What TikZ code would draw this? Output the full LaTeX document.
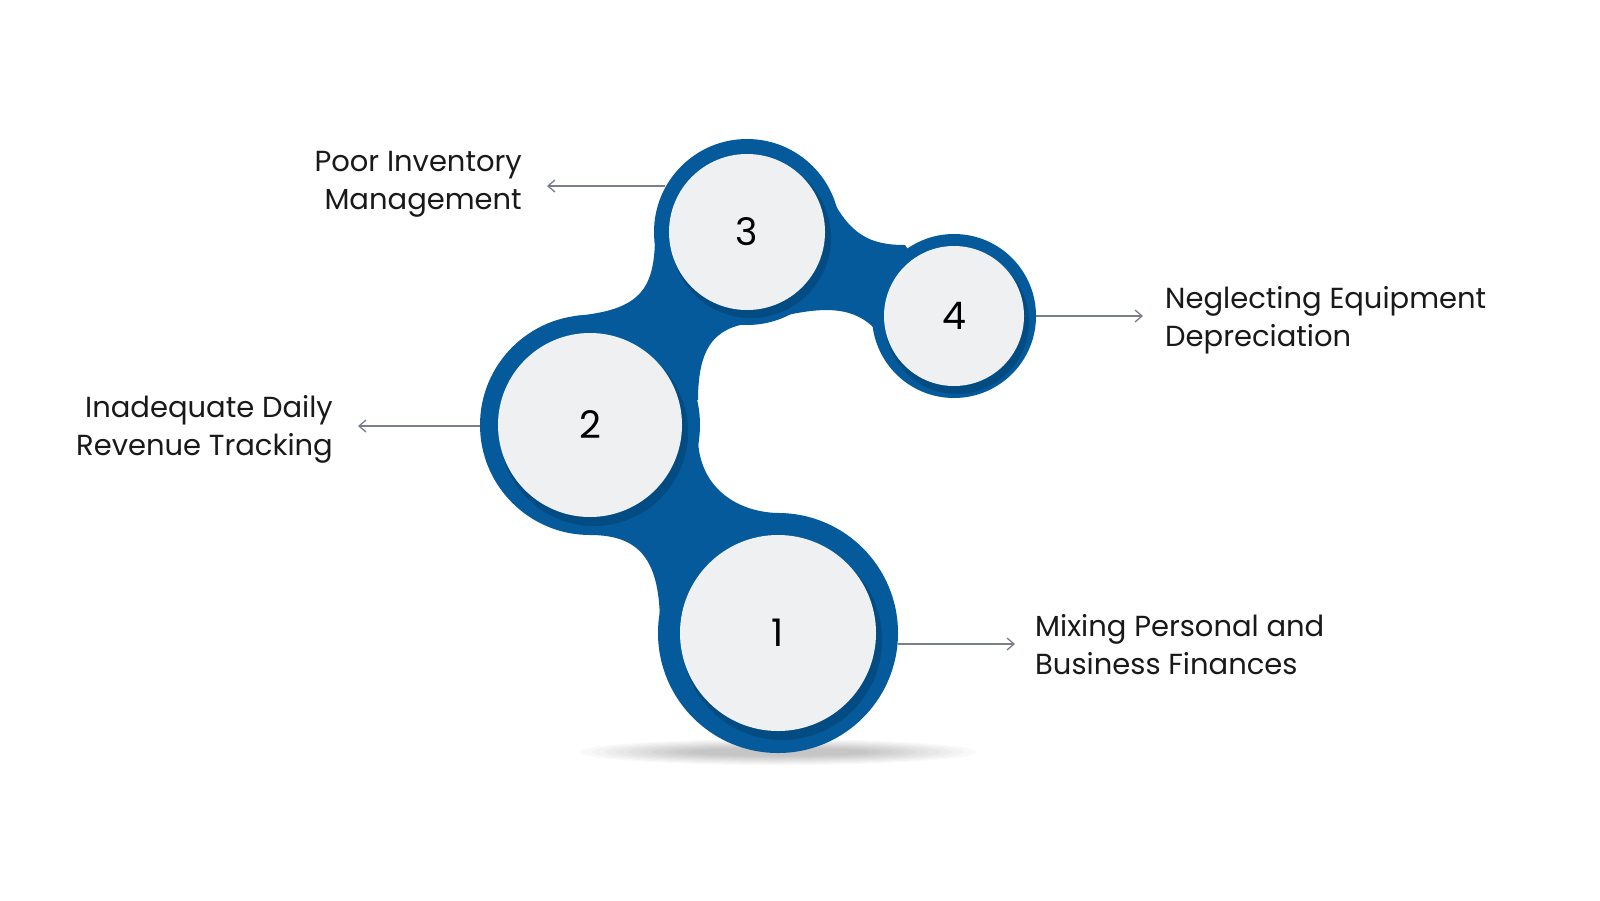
\documentclass[tikz,border=0pt]{standalone}
\usepackage{fontspec}
\setmainfont{Poppins}
\begin{document}
\begin{tikzpicture}[x=1pt,y=-1pt,
  blue/.style={fill=blob,draw=none},
  inner/.style={circle,fill=disc,draw=none,inner sep=0pt,font=\fontsize{38}{40}\selectfont},
  arr/.style={draw=linegray,line width=1.3pt,-{Straight Barb[length=7pt,width=12pt]}},
  lbl/.style={font=\fontsize{29}{38}\selectfont,text=black!90,inner sep=0pt}]
\definecolor{blob}{HTML}{045A9A}
\definecolor{disc}{HTML}{EEF0F2}
\definecolor{linegray}{HTML}{7A7D8C}
\usetikzlibrary{arrows.meta}
\useasboundingbox[fill=white] (0,0) rectangle (1600,900);
% shadow under circle 1
\foreach \i in {1,...,10}{\fill[black,opacity=0.025] (778,752) ellipse ({210-12*\i} and {14-\i});}
% connectors
\fill[blob] (590,425) -- (590,535) .. controls (640,535) and (660,560) .. (660,625) -- (778,633) -- (780,513) .. controls (740,513) and (700,490) .. (698,440) -- cycle;
\fill[blob] (590,425) -- (575,316) .. controls (640,310) and (655,290) .. (655,235) -- (747,232) -- (760,322) .. controls (720,325) and (698,340) .. (698,400) -- cycle;
\fill[blob] (747,232) -- (830,195) .. controls (850,235) and (870,245) .. (905,245) -- (954,316) -- (880,335) .. controls (850,295) and (800,312) .. (745,325) -- cycle;
% blue discs
\fill[blob] (778,633) circle (120);
\fill[blob] (590,425) circle (110);
\fill[blob] (747,232) circle (93);
\fill[blob] (954,316) circle (82);
% shaded rims
\fill[black,opacity=0.15] (782,640) circle (100);
\fill[black,opacity=0.15] (594,432) circle (94);
\fill[black,opacity=0.15] (751,238) circle (80);
\fill[black,opacity=0.15] (957,322) circle (72);
\node[inner,minimum size=196pt] (c1) at (778,633) {1};
\node[inner,minimum size=184pt] (c2) at (590,425) {2};
\node[inner,minimum size=156pt] (c3) at (747,232) {3};
\node[inner,minimum size=140pt] (c4) at (954,316) {4};
% labels
\coordinate (a3) at (665,186); \coordinate (e3) at (547,186);
\coordinate (a2) at (480,426); \coordinate (e2) at (358,426);
\coordinate (a4) at (1036,316); \coordinate (e4) at (1143,316);
\coordinate (a1) at (898,644); \coordinate (e1) at (1015,644);
\draw[arr] (a3) -- (e3);
\draw[arr] (a2) -- (e2);
\draw[arr] (a4) -- (e4);
\draw[arr] (a1) -- (e1);
\node[lbl,anchor=east,align=right] (t3) at (522,184) {Poor Inventory\\Management};
\node[lbl,anchor=east,align=right] (t2) at (333,429) {Inadequate Daily\\Revenue Tracking};
\node[lbl,anchor=west,align=left] (t4) at (1165,320) {Neglecting Equipment\\Depreciation};
\node[lbl,anchor=west,align=left] (t1) at (1035,645) {Mixing Personal and\\Business Finances};
\end{tikzpicture}
\end{document}
